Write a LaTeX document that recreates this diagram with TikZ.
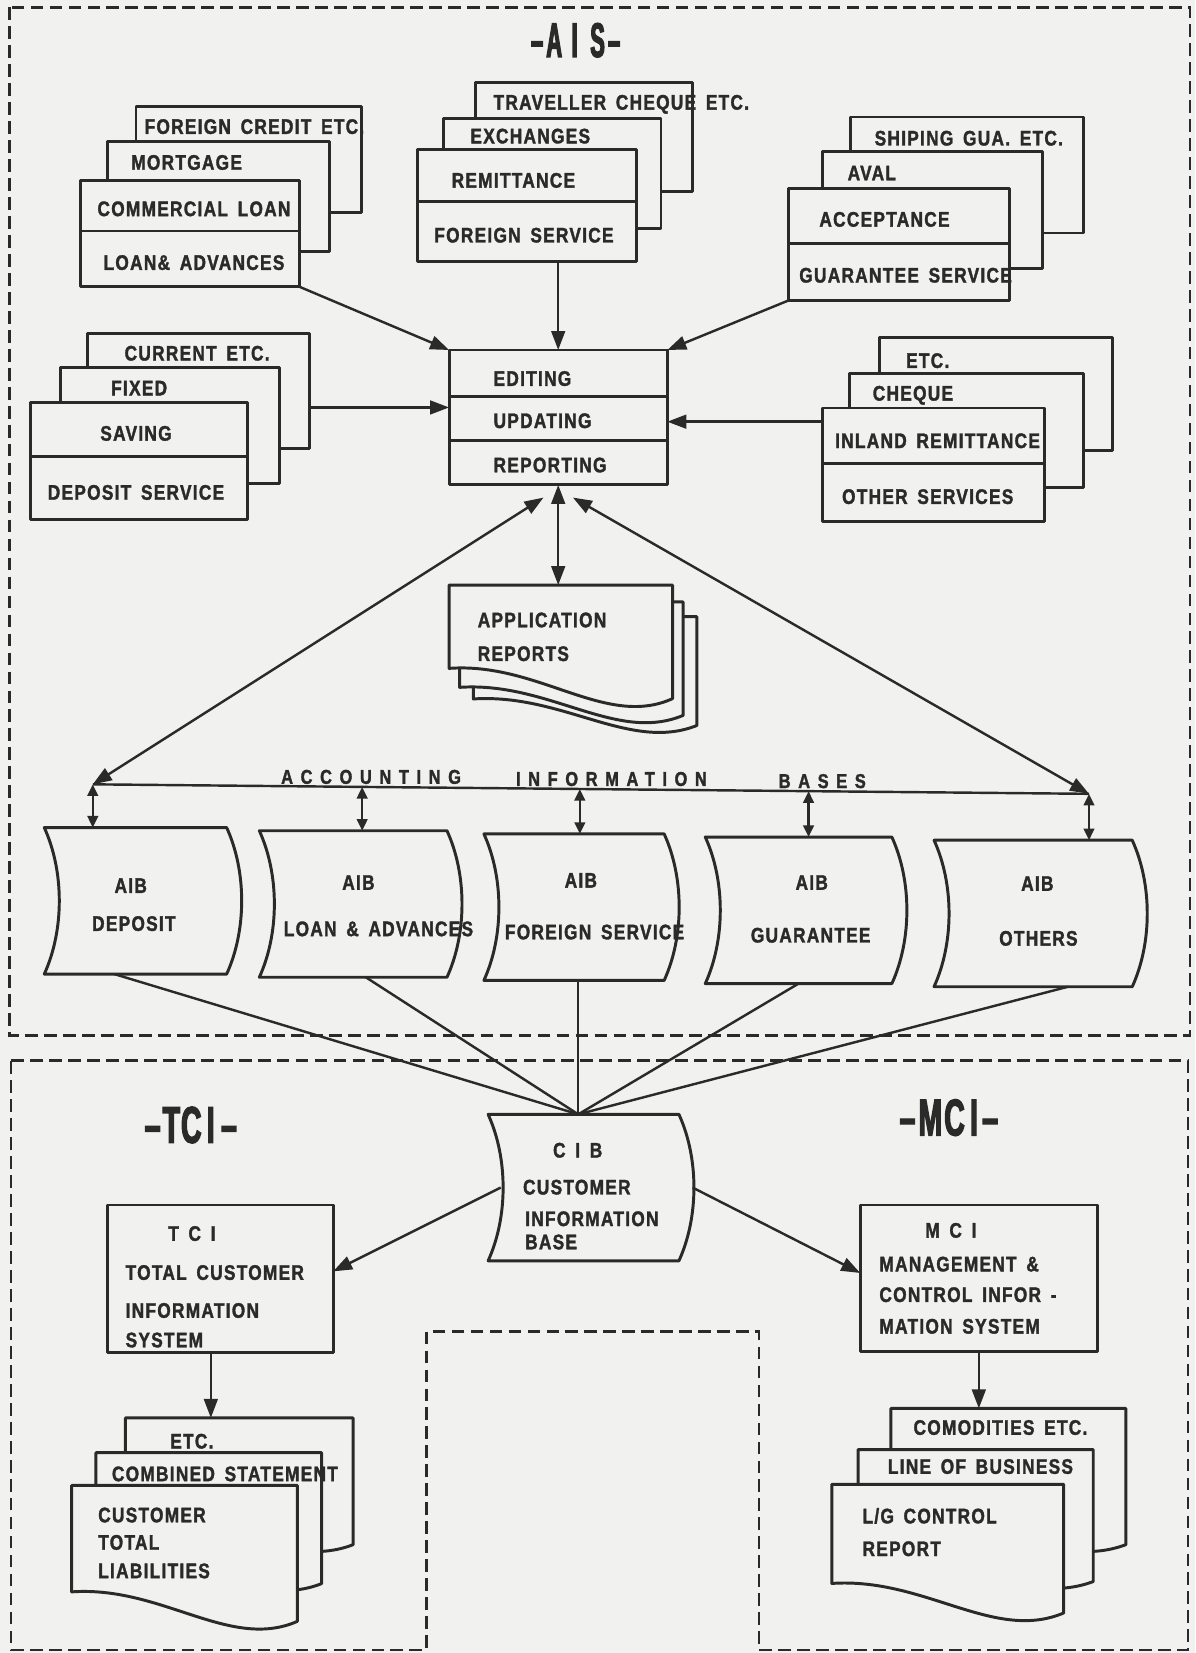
\documentclass[tikz,border=0pt]{standalone}
\usepackage{fontspec}
\usetikzlibrary{arrows.meta,calc}

% condensed grotesque look for labels and titles
\newfontfamily\lblfamily{Liberation Sans}[FakeStretch=0.82,LetterSpace=6,WordSpace=1.6,FakeBold=1.6]
\newfontfamily\widefamily{Liberation Sans}[FakeStretch=0.82,LetterSpace=38,FakeBold=1.6]
\newfontfamily\aisfamily{Liberation Sans}[FakeStretch=0.45,FakeBold=2.5]
\newfontfamily\ttlfamily{Liberation Sans}[FakeStretch=0.55,FakeBold=2.5]
\newcommand\lblfont{\lblfamily\bfseries\fontsize{20}{24}\selectfont}
\newcommand\widefont{\widefamily\bfseries\fontsize{19}{23}\selectfont}
\newcommand\aisfont{\aisfamily\bfseries\fontsize{46}{52}\selectfont}
\newcommand\ttlfont{\ttlfamily\bfseries\fontsize{49}{55}\selectfont}

\definecolor{paper}{RGB}{241,241,239}
\definecolor{ink}{RGB}{42,42,42}

% plain rectangle: name, left, top, right, bottom
\newcommand\rbox[5]{%
  \node[rboxst, minimum width={(#4)-(#2)}, minimum height={(#5)-(#3)}] (#1) at (#2,#3) {};}

% storage card with both sides bowed to the right: name, left, top, right, bottom
\newcommand\drum[5]{%
  \node[shapeframe, minimum width={(#4)-(#2)}, minimum height={(#5)-(#3)}] (#1) at (#2,#3) {};
  \draw[shapeline] (#1.north west) -- (#1.north east)
    .. controls ($(#1.north east)!0.3!(#1.south east)+(19,0)$) and ($(#1.north east)!0.7!(#1.south east)+(19,0)$) .. (#1.south east)
    -- (#1.south west)
    .. controls ($(#1.south west)!0.3!(#1.north west)+(19,0)$) and ($(#1.south west)!0.7!(#1.north west)+(19,0)$) .. cycle;}

% document sheet with a wavy lower edge: name, left, top, right, bottom (left end), dip
\newcommand\doc[6]{%
  \node[shapeframe, minimum width={(#4)-(#2)}, minimum height={(#5)-(#3)}] (#1) at (#2,#3) {};
  \draw[shapeline] (#1.north west) -- (#1.north east) -- ($(#1.south east)+(0,{0.7*#6})$)
    .. controls ($(#1.south east)+({-0.3*((#4)-(#2))},{1.4*#6})$) and ($(#1.south west)+({0.4*((#4)-(#2))},{-0.15*#6})$) .. (#1.south west)
    -- cycle;}

\begin{document}
\begin{tikzpicture}[x=1pt,y=-1pt,
  shapeline/.style={draw=ink, fill=paper, line width=2.8pt, line join=round},
  rboxst/.style={shapeline, anchor=north west, inner sep=0pt, outer sep=0pt},
  shapeframe/.style={anchor=north west, inner sep=0pt, outer sep=0pt},
  divl/.style={draw=ink, line width=2.6pt},
  frame/.style={draw=ink, line width=2.4pt, dash pattern=on 12pt off 6pt},
  conn/.style={draw=ink, line width=2.3pt},
  arr/.style={conn, -{Triangle[length=18pt,width=13pt]}},
  dbl/.style={conn, {Triangle[length=18pt,width=13pt]}-{Triangle[length=18pt,width=13pt]}},
  sdbl/.style={conn, {Triangle[length=11pt,width=10pt]}-{Triangle[length=11pt,width=10pt]}},
  lbl/.style={font=\lblfont, text=ink, inner sep=0pt, anchor=base},
  lblw/.style={lbl, anchor=base west},
  wide/.style={font=\widefont, text=ink, inner sep=0pt, anchor=base},
  ttl/.style={font=\ttlfont, text=ink, inner sep=0pt, anchor=base}]

\fill[paper] (0,0) rectangle (1134,1568);
\useasboundingbox (0,0) rectangle (1134,1568);

% ---------- region frames
\draw[frame] (9,7) rectangle (1129,982);
\draw[frame] (10.6,1006) -- (1127,1006) -- (1127,1565) -- (720,1565) -- (720,1263)
  -- (404.5,1263) -- (404.5,1565) -- (10.6,1565) -- cycle;

\node[ttl, font=\aisfont] (aistitle) at (546,54) {–\hspace{3pt}A\hspace{9pt}I\hspace{12pt}S\hspace{3pt}–};
\node[ttl] (tcititle) at (181,1084) {–\hspace{2pt}T\hspace{1pt}C\hspace{5pt}I\hspace{6pt}–};
\node[ttl] (mcititle) at (900,1077) {–\hspace{3pt}M\hspace{2pt}C\hspace{5pt}I\hspace{4pt}–};

% ---------- loans
\rbox{loanC}{129}{101}{343}{202}
\node[lblw] (loanCt) at (137,127) {FOREIGN CREDIT ETC.};
\rbox{loanB}{102}{134}{313}{239}
\node[lbl] (loanBt) at (177,161) {MORTGAGE};
\rbox{loanA}{76}{171}{284}{272}
\draw[divl] (loanA.west |- 0,219) -- (loanA.east |- 0,219);
\node[lbl] (loanAt1) at (184,205) {COMMERCIAL LOAN};
\node[lbl] (loanAt2) at (184,256) {LOAN\& ADVANCES};

% ---------- foreign service
\rbox{remC}{451}{78}{657}{182}
\node[lblw] (remCt) at (468,104) {TRAVELLER CHEQUE ETC.};
\rbox{remB}{421}{112}{627}{217}
\node[lbl] (remBt) at (503,136) {EXCHANGES};
\rbox{remA}{396}{142}{604}{248}
\draw[divl] (remA.west |- 0,191) -- (remA.east |- 0,191);
\node[lbl] (remAt1) at (487,178) {REMITTANCE};
\node[lbl] (remAt2) at (497,230) {FOREIGN SERVICE};

% ---------- guarantees
\rbox{guaC}{807}{111}{1028}{221}
\node[lbl] (guaCt) at (919,138) {SHIPING GUA. ETC.};
\rbox{guaB}{780}{144}{989}{255}
\node[lbl] (guaBt) at (827,171) {AVAL};
\rbox{guaA}{748}{179}{958}{285}
\draw[divl] (guaA.west |- 0,231) -- (guaA.east |- 0,231);
\node[lbl] (guaAt1) at (839,215) {ACCEPTANCE};
\node[lblw] (guaAt2) at (758,268) {GUARANTEE SERVICE};

% ---------- deposits
\rbox{depC}{83}{316}{294}{425}
\node[lbl] (depCt) at (187,342) {CURRENT ETC.};
\rbox{depB}{57}{349}{265}{459}
\node[lbl] (depBt) at (132,375) {FIXED};
\rbox{depA}{29}{382}{235}{493}
\draw[divl] (depA.west |- 0,433) -- (depA.east |- 0,433);
\node[lbl] (depAt1) at (129,418) {SAVING};
\node[lbl] (depAt2) at (129,474) {DEPOSIT SERVICE};

% ---------- other services
\rbox{othC}{834}{320}{1055}{427}
\node[lbl] (othCt) at (880,349) {ETC.};
\rbox{othB}{806}{354}{1028}{462}
\node[lbl] (othBt) at (866,380) {CHEQUE};
\rbox{othA}{780}{387}{991}{495}
\draw[divl] (othA.west |- 0,440) -- (othA.east |- 0,440);
\node[lblw] (othAt1) at (792,425) {INLAND REMITTANCE};
\node[lbl] (othAt2) at (880,478) {OTHER SERVICES};

% ---------- processing
\rbox{edit}{426}{332}{633}{460}
\draw[divl] (edit.west |- 0,376) -- (edit.east |- 0,376);
\draw[divl] (edit.west |- 0,417.5) -- (edit.east |- 0,417.5);
\node[lblw] (editt1) at (468,366) {EDITING};
\node[lblw] (editt2) at (468,406) {UPDATING};
\node[lblw] (editt3) at (468,448) {REPORTING};

% ---------- application reports
\doc{apps3}{449}{585}{661}{663}{36}
\doc{apps2}{436}{571}{648}{652}{38}
\doc{apps}{426}{555}{638}{634}{41}
\node[lblw] (appst1) at (453,595) {APPLICATION};
\node[lblw] (appst2) at (453,627) {REPORTS};

% ---------- accounting information bases
\coordinate (aibL) at (88,744);
\coordinate (aibR) at (1033,753);
\draw[conn] (aibL) -- (aibR);
\node[wide] (aibw1) at (352,743.5) {ACCOUNTING};
\node[wide] (aibw2) at (580,745.5) {INFORMATION};
\node[wide] (aibw3) at (780,747.5) {BASES};

\drum{aibdep}{42}{785}{215}{924}
\drum{aibloan}{246}{788}{424}{927}
\drum{aibfor}{459}{791}{630}{930}
\drum{aibgua}{669}{794}{846}{933}
\drum{aiboth}{886}{797}{1074}{936}
\node[lbl] (aibdept1) at (124,847) {AIB};
\node[lbl] (aibdept2) at (127,883) {DEPOSIT};
\node[lbl] (aibloant1) at (340,844) {AIB};
\node[lbl] (aibloant2) at (359,888) {LOAN \& ADVANCES};
\node[lbl] (aibfort1) at (551,842) {AIB};
\node[lbl] (aibfort2) at (564,891) {FOREIGN SERVICE};
\node[lbl] (aibguat1) at (770,844) {AIB};
\node[lbl] (aibguat2) at (769,894) {GUARANTEE};
\node[lbl] (aiboth1) at (984,845) {AIB};
\node[lbl] (aiboth2) at (985,897) {OTHERS};

% ---------- customer information base
\drum{cib}{463}{1057}{644}{1196}
\node[lbl] (cibt1) at (548,1098) {C I B};
\node[lblw] (cibt2) at (496,1133) {CUSTOMER};
\node[lblw] (cibt3) at (498,1163) {INFORMATION};
\node[lblw] (cibt4) at (498,1185) {BASE};

% ---------- TCI
\rbox{tci}{102}{1143}{316}{1283}
\node[lbl] (tcit1) at (182,1177) {T C I};
\node[lblw] (tcit2) at (119,1214) {TOTAL CUSTOMER};
\node[lblw] (tcit3) at (119,1250) {INFORMATION};
\node[lblw] (tcit4) at (119,1278) {SYSTEM};
\doc{tciC}{119}{1345}{335}{1440}{36}
\node[lbl] (tciCt) at (182,1374) {ETC.};
\doc{tciB}{91}{1378}{305}{1477}{36}
\node[lblw] (tciBt) at (106,1405) {COMBINED STATEMENT};
\doc{tciA}{68}{1409}{282}{1510}{40}
\node[lblw] (tciAt1) at (93,1444) {CUSTOMER};
\node[lblw] (tciAt2) at (93,1470) {TOTAL};
\node[lblw] (tciAt3) at (93,1497) {LIABILITIES};

% ---------- MCI
\rbox{mci}{816}{1143}{1041}{1282}
\node[lbl] (mcit1) at (902,1174) {M C I};
\node[lblw] (mcit2) at (834,1206) {MANAGEMENT \&};
\node[lblw] (mcit3) at (834,1235) {CONTROL INFOR -};
\node[lblw] (mcit4) at (834,1265) {MATION SYSTEM};
\doc{mciC}{845}{1336}{1068}{1440}{36}
\node[lbl] (mciCt) at (949,1361) {COMODITIES ETC.};
\doc{mciB}{814}{1375}{1037}{1475}{36}
\node[lbl] (mciBt) at (930,1398) {LINE OF BUSINESS};
\doc{mciA}{789}{1408}{1009}{1502}{40}
\node[lblw] (mciAt1) at (818,1445) {L/G CONTROL};
\node[lblw] (mciAt2) at (818,1476) {REPORT};

% ---------- connectors into processing
\draw[arr] (loanA.south east) -- (edit.north west);
\draw[arr] (remA.south -| edit.north) -- (edit.north);
\draw[arr] (guaA.south west) -- (edit.north east);
\coordinate (depout) at ([yshift=-16pt]depC.east);
\draw[arr] (depout) -- (depout -| edit.west);
\coordinate (othout) at ([yshift=41pt]othA.west);
\draw[arr] (othout) -- (othout -| edit.east);

% ---------- reporting outputs
\draw[dbl] (edit.south) -- (edit.south |- apps.north);
\coordinate (repL) at ([xshift=-14pt,yshift=-12pt]edit.south);
\coordinate (repR) at ([xshift=14pt,yshift=-12pt]edit.south);
\draw[dbl] (repL) -- (aibL);
\draw[dbl] (repR) -- (aibR);

% ---------- taps to each base
\coordinate (tap2) at ($(aibL)!0.2704!(aibR)$);
\coordinate (tap3) at ($(aibL)!0.4889!(aibR)$);
\coordinate (tap4) at ($(aibL)!0.7185!(aibR)$);
\draw[sdbl] (aibL) -- (aibL |- aibdep.north);
\draw[sdbl] (tap2) -- (tap2 |- aibloan.north);
\draw[sdbl] (tap3) -- (tap3 |- aibfor.north);
\draw[sdbl] (tap4) -- (tap4 |- aibgua.north);
\draw[sdbl] (aibR) -- (aibR |- aiboth.north);

% ---------- bases feed the customer information base
\coordinate (cibtop) at ([xshift=-5pt]cib.north);
\draw[conn] ([xshift=-20pt]aibdep.south) -- (cibtop);
\draw[conn] ([xshift=12pt]aibloan.south) -- (cibtop);
\draw[conn] (aibfor.south -| cibtop) -- (cibtop);
\draw[conn] (aibgua.south) -- (cibtop);
\draw[conn] ([xshift=33pt]aiboth.south) -- (cibtop);

% ---------- customer information outputs
\draw[arr] ([xshift=12pt]cib.west) -- ([yshift=7pt]tci.east);
\draw[arr] ([xshift=13pt]cib.east) -- ([yshift=5pt]mci.west);
\coordinate (tcidown) at ([xshift=-9pt]tci.south);
\draw[arr] (tcidown) -- (tcidown |- tciC.north);
\draw[arr] (mci.south) -- (mci.south |- mciC.north);

\end{tikzpicture}
\end{document}
